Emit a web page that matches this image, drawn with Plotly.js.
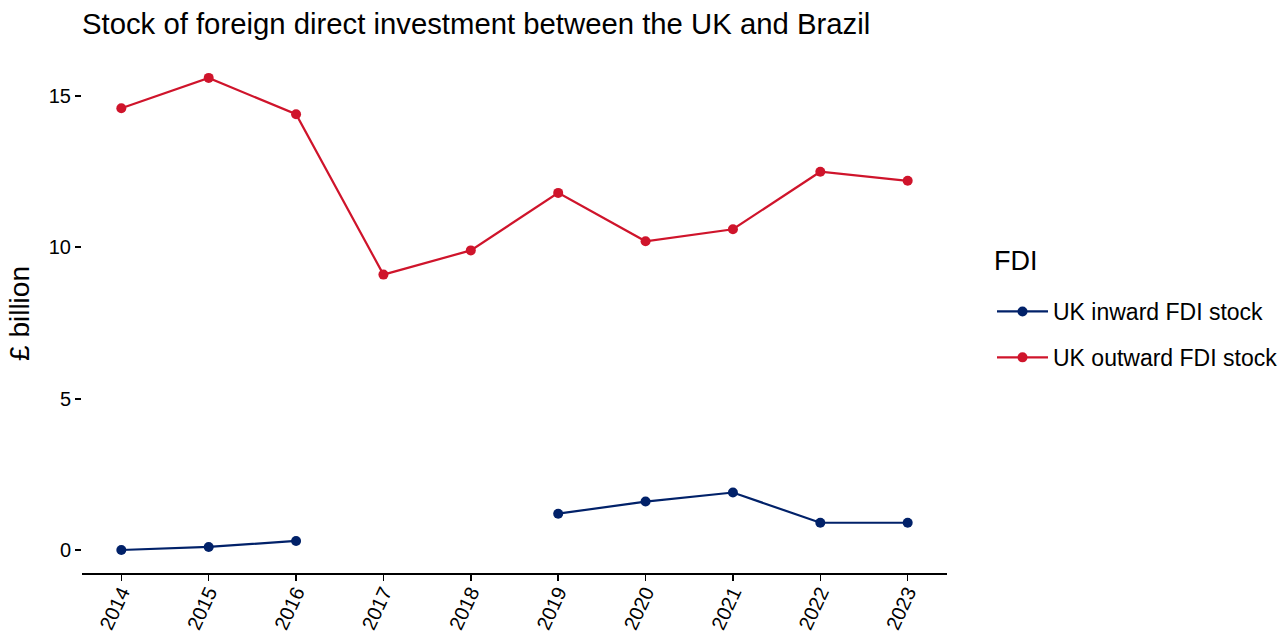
<!DOCTYPE html>
<html><head><meta charset="utf-8">
<script src="https://cdn.plot.ly/plotly-3.0.1.min.js"></script>
<style>body{margin:0;background:#fff}#c{width:1283px;height:632px}</style>
</head><body><div id="c"></div>
<script>
const years = [2014, 2015, 2016, 2017, 2018, 2019, 2020, 2021, 2022, 2023];
const inwardStock = [0.0, 0.1, 0.3, null, null, 1.2, 1.6, 1.9, 0.9, 0.9];
const outwardStock = [14.6, 15.6, 14.4, 9.1, 9.9, 11.8, 10.2, 10.6, 12.5, 12.2];
const seriesNames = ["UK inward FDI stock", "UK outward FDI stock"];
const legendTitle = "FDI";
const yTicks = [0, 5, 10, 15];

const navy = "#012169", red = "#CF142B";
const font = "Liberation Sans, Arial, sans-serif";

const traces = [
  {x: years, y: inwardStock, name: seriesNames[0], mode: "lines+markers", connectgaps: false,
   line: {color: navy, width: 2.2}, marker: {color: navy, size: 10}, legendgroup: "a"},
  {x: years, y: outwardStock, name: seriesNames[1], mode: "lines+markers",
   line: {color: red, width: 2.2}, marker: {color: red, size: 10}, legendgroup: "b"}
];

const layout = {
  width: 1283, height: 632,
  margin: {l: 82, r: 336, t: 54, b: 59, autoexpand: false},
  paper_bgcolor: "#fff", plot_bgcolor: "#fff",
  font: {family: font, color: "#000"},
  title: {text: "Stock of foreign direct investment between the UK and Brazil",
          font: {size: 29.3, family: font, color: "#000"}, x: 0, xanchor: "left", xref: "paper", y: 0.962, yanchor: "middle"},
  xaxis: {range: [2013.55, 2023.45], tickvals: years, ticktext: years.map(String),
          tickangle: -65, ticks: "outside", ticklen: 6, tickwidth: 1.5, tickcolor: "#000",
          ticklabelstandoff: -8,
          showline: true, linecolor: "#000", linewidth: 2, showgrid: false, zeroline: false,
          tickfont: {size: 20, color: "#000"}},
  yaxis: {range: [-0.76, 16.39], tickvals: yTicks, ticks: "outside", ticklen: 6, tickwidth: 2,
          tickcolor: "#000", showline: false, showgrid: false, zeroline: false,
          tickfont: {size: 20, color: "#000"},
          title: {text: "£ billion", font: {size: 28, color: "#000"}, standoff: 10}},
  legend: {xref: "container", yref: "container", x: 992/1283, xanchor: "left",
           y: 1 - 290/632, yanchor: "top",
           font: {size: 23, color: "#000"}, tracegroupgap: 13, itemwidth: 51},
  annotations: [{text: legendTitle, xref: "paper", yref: "paper",
                 x: (992 - 82) / 865, xanchor: "left", y: (573 - 261) / 519, yanchor: "middle",
                 showarrow: false, font: {size: 27, color: "#000"}}],
  showlegend: true
};

Plotly.newPlot("c", traces, layout, {displayModeBar: false, staticPlot: true});
</script>
</body></html>
